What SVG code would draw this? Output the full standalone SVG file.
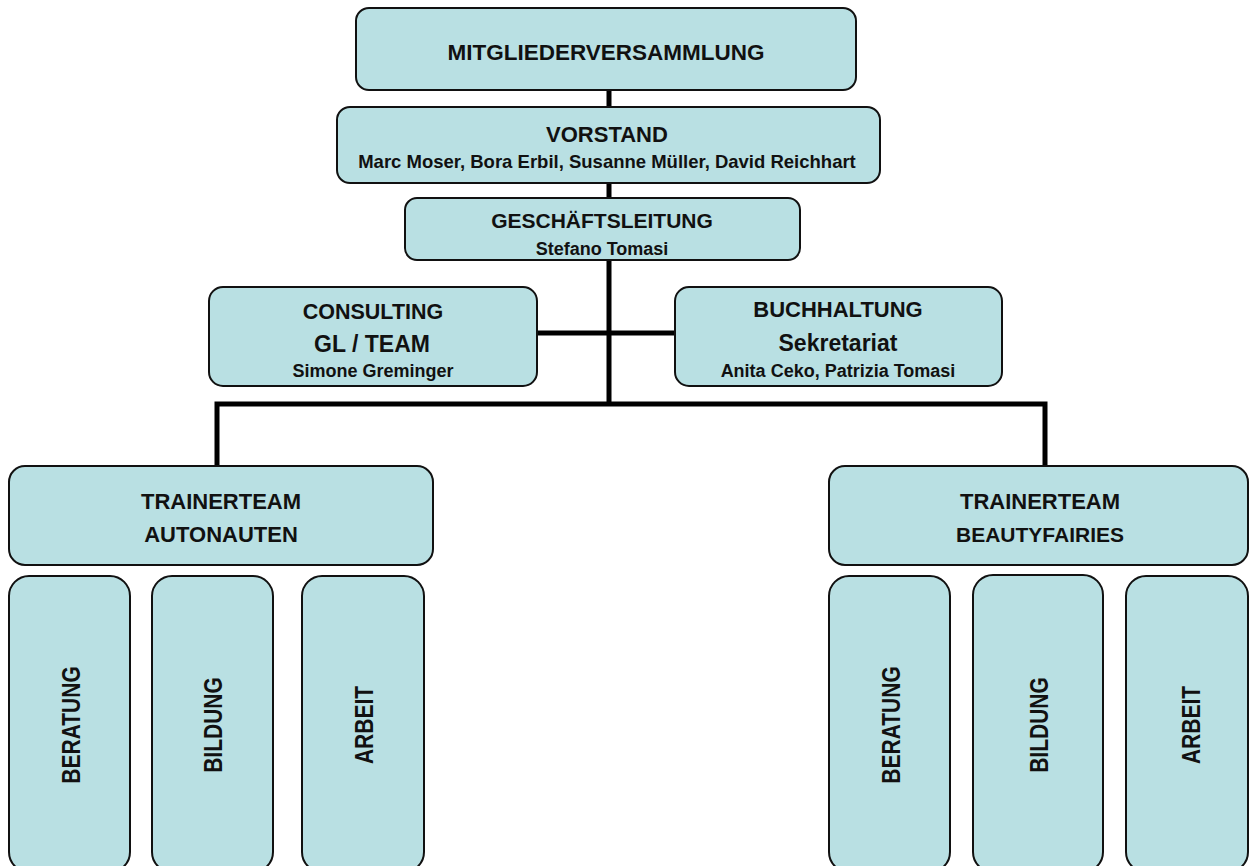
<svg xmlns="http://www.w3.org/2000/svg" width="1250" height="866" viewBox="0 0 1250 866">
<style>
.box{fill:#b9e0e3;stroke:#111;stroke-width:2}
.t{font-family:"Liberation Sans",Arial,sans-serif;font-weight:bold;fill:#111;text-anchor:middle}
.conn{stroke:#000;stroke-width:5;fill:none}
</style>
<rect width="1250" height="866" fill="#fff"/>
<g id="connectors">
<line class="conn" x1="609" y1="90" x2="609" y2="406"/>
<line class="conn" x1="537" y1="333" x2="676" y2="333"/>
<polyline class="conn" points="217,466 217,404 1045,404 1045,466"/>
</g>
<g id="mitglieder">
<rect class="box" x="356" y="8" width="500" height="82" rx="13"/>
<text class="t" x="606" y="60" font-size="22.5">MITGLIEDERVERSAMMLUNG</text>
</g>
<g id="vorstand">
<rect class="box" x="337" y="107" width="543" height="76" rx="13"/>
<text class="t" x="607" y="142" font-size="22">VORSTAND</text>
<text class="t" x="607" y="168" font-size="18.5">Marc Moser, Bora Erbil, Susanne Müller, David Reichhart</text>
</g>
<g id="geschaeftsleitung">
<rect class="box" x="405" y="198" width="395" height="62" rx="12"/>
<text class="t" x="602" y="228" font-size="21">GESCHÄFTSLEITUNG</text>
<text class="t" x="602" y="255" font-size="18">Stefano Tomasi</text>
</g>
<g id="consulting">
<rect class="box" x="209" y="287" width="328" height="99" rx="14"/>
<text class="t" x="373" y="319" font-size="21.5">CONSULTING</text>
<text class="t" x="372" y="352" font-size="23">GL / TEAM</text>
<text class="t" x="373" y="377" font-size="18">Simone Greminger</text>
</g>
<g id="buchhaltung">
<rect class="box" x="675" y="287" width="327" height="99" rx="14"/>
<text class="t" x="838" y="317" font-size="22">BUCHHALTUNG</text>
<text class="t" x="838" y="351" font-size="23">Sekretariat</text>
<text class="t" x="838" y="377" font-size="18">Anita Ceko, Patrizia Tomasi</text>
</g>
<g id="trainer-autonauten">
<rect class="box" x="9" y="466" width="424" height="99" rx="16"/>
<text class="t" x="221" y="509" font-size="22">TRAINERTEAM</text>
<text class="t" x="221" y="542" font-size="22">AUTONAUTEN</text>
</g>
<g id="trainer-beautyfairies">
<rect class="box" x="829" y="466" width="419" height="99" rx="16"/>
<text class="t" x="1040" y="509" font-size="22">TRAINERTEAM</text>
<text class="t" x="1040" y="542" font-size="21">BEAUTYFAIRIES</text>
</g>
<g id="a-beratung">
<rect class="box" x="9" y="576" width="121" height="296" rx="20"/>
<text class="t" font-size="21" transform="translate(71,725) rotate(-90) scale(1,1.2)" y="7.5">BERATUNG</text>
</g>
<g id="a-bildung">
<rect class="box" x="152" y="576" width="121" height="296" rx="20"/>
<text class="t" font-size="21" transform="translate(213,725) rotate(-90) scale(1,1.2)" y="7.5">BILDUNG</text>
</g>
<g id="a-arbeit">
<rect class="box" x="302" y="576" width="122" height="296" rx="20"/>
<text class="t" font-size="21" transform="translate(364,725) rotate(-90) scale(1,1.2)" y="7.5">ARBEIT</text>
</g>
<g id="b-beratung">
<rect class="box" x="829" y="576" width="121" height="296" rx="20"/>
<text class="t" font-size="21" transform="translate(891,725) rotate(-90) scale(1,1.2)" y="7.5">BERATUNG</text>
</g>
<g id="b-bildung">
<rect class="box" x="973" y="575" width="130" height="297" rx="20"/>
<text class="t" font-size="21" transform="translate(1039,725) rotate(-90) scale(1,1.2)" y="7.5">BILDUNG</text>
</g>
<g id="b-arbeit">
<rect class="box" x="1126" y="576" width="122" height="296" rx="20"/>
<text class="t" font-size="21" transform="translate(1191,725) rotate(-90) scale(1,1.2)" y="7.5">ARBEIT</text>
</g>
</svg>
